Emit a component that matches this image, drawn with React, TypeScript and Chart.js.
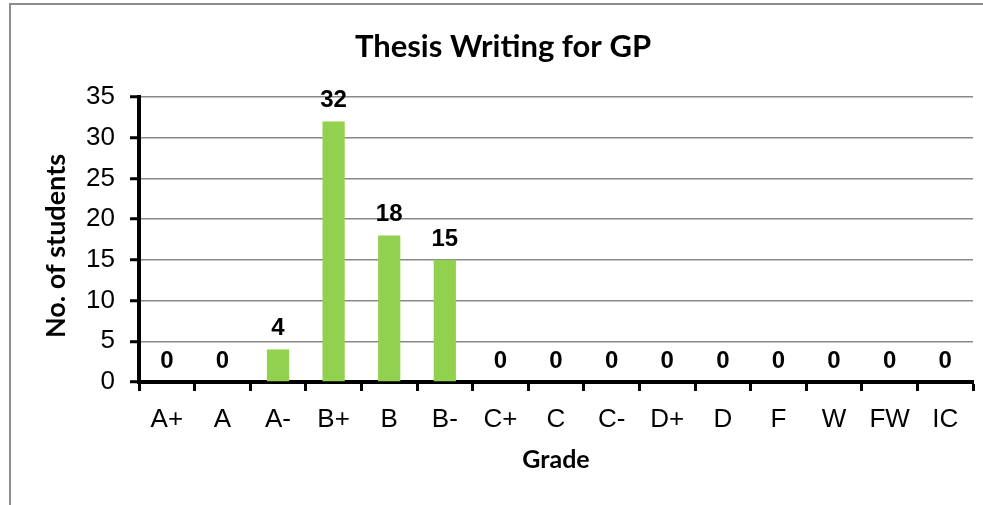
import React, { useEffect, useRef } from 'react';
import { Chart, registerables } from 'chart.js';

Chart.register(...registerables);

const TITLE = 'Thesis Writing for GP';
const X_TITLE = 'Grade';
const Y_TITLE = 'No. of students';

const grades = ['A+', 'A', 'A-', 'B+', 'B', 'B-', 'C+', 'C', 'C-', 'D+', 'D', 'F', 'W', 'FW', 'IC'];
const students = [0, 0, 4, 32, 18, 15, 0, 0, 0, 0, 0, 0, 0, 0, 0];
const yTicks = [0, 5, 10, 15, 20, 25, 30, 35];

const BAR_COLOR = '#92D050';
const TICK_FONT = "'Liberation Sans', Arial, sans-serif";
const TITLE_FONT = "Lato, 'Open Sans', sans-serif";

export default function App() {
  const ref = useRef<HTMLCanvasElement>(null);

  useEffect(() => {
    document.body.style.margin = '0';
    const canvas = ref.current;
    if (!canvas) return;

    const decor = {
      id: 'decor',
      beforeDraw(chart: any) {
        const ctx = chart.ctx;
        ctx.save();
        ctx.fillStyle = '#fff';
        ctx.fillRect(0, 0, chart.width, chart.height);
        ctx.strokeStyle = '#8c8c8c';
        ctx.lineWidth = 2;
        ctx.strokeRect(10, 4, 987, 600);
        ctx.restore();
      },
      afterDatasetsDraw(chart: any) {
        const ctx = chart.ctx;
        const ca = chart.chartArea;
        ctx.save();
        ctx.fillStyle = '#000';
        // chart title
        ctx.font = `bold 31px ${TITLE_FONT}`;
        ctx.textAlign = 'center';
        ctx.textBaseline = 'alphabetic';
        ctx.fillText(TITLE, 503, 57);
        // x axis title
        ctx.font = `bold 25px ${TITLE_FONT}`;
        ctx.fillText(X_TITLE, (ca.left + ca.right) / 2, 468);
        // y axis title
        ctx.save();
        ctx.translate(65, 246);
        ctx.rotate(-Math.PI / 2);
        ctx.font = `bold 27px ${TITLE_FONT}`;
        ctx.fillText(Y_TITLE, 0, 0);
        ctx.restore();
        // data labels
        const meta = chart.getDatasetMeta(0);
        ctx.font = `bold 24px ${TICK_FONT}`;
        meta.data.forEach((bar: any, i: number) => {
          ctx.fillText(String(students[i]), bar.x, bar.y - 14);
        });
        ctx.restore();
      },
    };

    const chart = new Chart(canvas, {
      type: 'bar',
      data: {
        labels: grades,
        datasets: [
          {
            data: students,
            backgroundColor: BAR_COLOR,
            borderWidth: 0,
            barPercentage: 0.4,
            categoryPercentage: 1,
          },
        ],
      },
      options: {
        responsive: false,
        animation: false,
        devicePixelRatio: 1,
        layout: { padding: { top: 97, right: 10, bottom: 0, left: 0 } },
        plugins: {
          legend: { display: false },
          title: { display: false },
          tooltip: { enabled: false },
        },
        scales: {
          x: {
            offset: true,
            afterFit(scale: any) {
              scale.height = 123;
            },
            grid: {
              display: true,
              offset: true,
              drawOnChartArea: false,
              drawTicks: true,
              tickLength: 9,
              tickColor: '#000',
              tickWidth: 3,
            },
            border: { display: true, color: '#000', width: 4 },
            ticks: {
              color: '#000',
              padding: 13,
              maxRotation: 0,
              autoSkip: false,
              font: { family: TICK_FONT, size: 26 },
            },
          },
          y: {
            min: 0,
            max: 35,
            afterBuildTicks(scale: any) {
              scale.ticks = yTicks.map((v) => ({ value: v }));
            },
            afterFit(scale: any) {
              scale.width = 139;
            },
            grid: {
              color: '#888888',
              lineWidth: 1.5,
              drawTicks: true,
              tickLength: 9,
              tickColor: '#000',
              tickWidth: 3,
            },
            border: { display: true, color: '#000', width: 4 },
            ticks: {
              color: '#000',
              padding: 15,
              font: { family: TICK_FONT, size: 26 },
            },
          },
        },
      },
      plugins: [decor],
    });

    return () => chart.destroy();
  }, []);

  return <canvas ref={ref} width={983} height={505} style={{ display: 'block' }} />;
}
